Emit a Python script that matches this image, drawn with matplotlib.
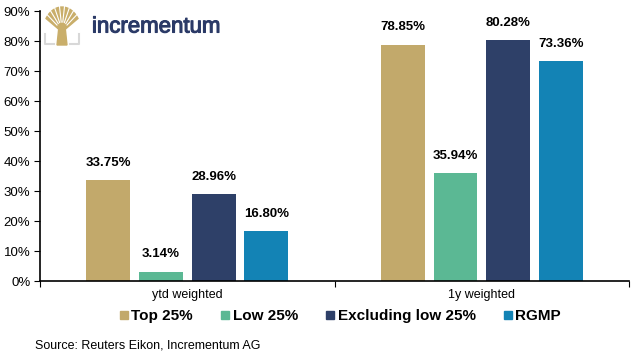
import numpy as np
import matplotlib.pyplot as plt
import matplotlib.patheffects as pe
from matplotlib.patches import Polygon
from matplotlib.lines import Line2D

plt.rcParams['font.family'] = ['Liberation Sans', 'DejaVu Sans']

# data
categories = ['ytd weighted', '1y weighted']
series = ['Top 25%', 'Low 25%', 'Excluding low 25%', 'RGMP']
values = [
    [33.75, 78.85],   # Top 25%
    [3.14, 35.94],    # Low 25%
    [28.96, 80.28],   # Excluding low 25%
    [16.80, 73.36],   # RGMP
]
colors = ['#C2A96B', '#5BB894', '#2E4068', '#1383B5']

W, H = 640, 360
fig = plt.figure(figsize=(6.4, 3.6), dpi=100)
ax = fig.add_axes([0.0625, 0.2194, 0.9205, 0.7496])

x = np.arange(len(categories))
pitch = 0.179
width = 0.149
for i, name in enumerate(series):
    pos = x + (i - 1.5) * pitch
    bars = ax.bar(pos, values[i], width=width, color=colors[i], label=name)
    for b, v in zip(bars, values[i]):
        ax.annotate(f'{v:.2f}%', (b.get_x() + b.get_width() / 2, v),
                    xytext=(0, 8), textcoords='offset points',
                    ha='center', va='bottom', fontsize=9.5, fontweight='bold')

ax.set_xlim(-0.5, 1.5)
ax.set_ylim(0, 90)
ax.set_yticks(np.arange(0, 91, 10))
ax.set_yticklabels([f'{t}%' for t in range(0, 91, 10)], fontsize=9.5)
ax.set_xticks([-0.5, 0.5, 1.5])
ax.set_xticklabels([])
ax.set_xticks(x, minor=True)
ax.set_xticklabels(categories, minor=True, fontsize=9)
ax.tick_params(axis='x', which='minor', length=0, pad=6)
ax.tick_params(axis='x', which='major', length=4, direction='out')
ax.tick_params(axis='y', length=4, direction='out', pad=3)
for s in ['top', 'right']:
    ax.spines[s].set_visible(False)
ax.spines['left'].set_linewidth(1.2)
ax.spines['bottom'].set_linewidth(1.2)

# legend
handles = [Line2D([], [], marker='s', linestyle='none', markersize=6,
                  color=c) for c in colors]
fig.legend(handles, series, loc='center', bbox_to_anchor=(0.53, 0.122),
           ncol=4, frameon=False, handletextpad=0.1, columnspacing=1.7,
           prop={'size': 11, 'weight': 'bold'}, handlelength=0.8)

# source
fig.text(0.055, 0.033, 'Source: Reuters Eikon, Incrementum AG', fontsize=9)


# logo, drawn in pixel coordinates (origin top-left)
def px(xp, yp):
    return (xp / W, 1 - yp / H)


tan = '#C9AE6A'
crown = [px(62, 32)] + [px(62 + 19 * np.sin(a), 32 - 25 * np.cos(a))
                        for a in np.linspace(-1.0, 1.0, 24)]
fig.patches.append(Polygon(crown, closed=True, transform=fig.transFigure,
                           color=tan))
for a in np.linspace(-0.8, 0.8, 8):
    p0 = px(62 + 7 * np.sin(a), 32 - 10 * np.cos(a))
    p1 = px(62 + 22 * np.sin(a * 1.1), 32 - 28 * np.cos(a))
    fig.lines.append(Line2D([p0[0], p1[0]], [p0[1], p1[1]],
                            transform=fig.transFigure, color='white', lw=0.8))
trunk = [px(57, 45), px(67, 45), px(65, 26), px(59, 26)]
fig.patches.append(Polygon(trunk, closed=True, transform=fig.transFigure,
                           color=tan))
gray = '#D8D8D8'
for pts in ([px(45, 34), px(45, 44), px(54, 44)],
            [px(70, 44), px(79, 44), px(79, 34)]):
    fig.lines.append(Line2D([p[0] for p in pts], [p[1] for p in pts],
                            transform=fig.transFigure, color=gray, lw=1.5))
fig.text(92 / W, 1 - 27 / H, 'incrementum', fontsize=16, color='#2B3A67',
         va='center', ha='left',
         path_effects=[pe.withStroke(linewidth=0.8, foreground='#2B3A67')])

fig.savefig('out.png', dpi=100)
